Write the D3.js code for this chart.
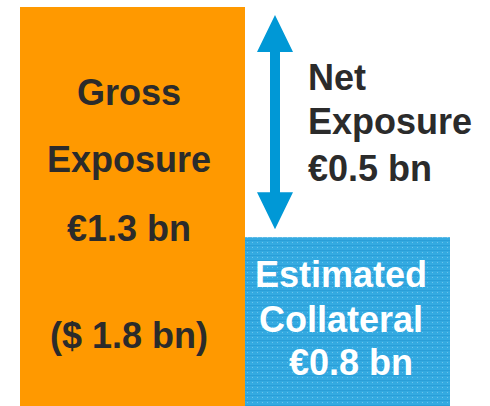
<!DOCTYPE html>
<html>
<head>
<meta charset="utf-8">
<script src="https://cdn.jsdelivr.net/npm/d3@7.9.0/dist/d3.min.js"></script>
<style>
  html, body { margin: 0; padding: 0; background: #fff; }
  svg { display: block; font-family: "Liberation Sans", Arial, sans-serif; font-weight: bold; }
</style>
</head>
<body>
<div id="chart"></div>
<script>
// exposure bars (EUR bn)
const categories = ["Gross", "Collateral"];
const amounts = [1.3, 0.8];
// bar height as drawn in the original (collateral bar is not to scale)
const drawnValues = [1.3, 0.55];
const netAmount = 0.5;

const grossLines = ["Gross", "Exposure", "€1.3 bn", "($ 1.8 bn)"];
const collateralLines = ["Estimated", "Collateral", "€0.8 bn"];
const netLines = ["Net", "Exposure", "€0.5 bn"];

const width = 490, height = 406;

const svg = d3.select("#chart")
  .append("svg")
    .attr("width", width)
    .attr("height", height);

// dotted blue fill for the collateral bar
const defs = svg.append("defs");
const pat = defs.append("pattern")
    .attr("id", "dots")
    .attr("width", 5)
    .attr("height", 5)
    .attr("patternUnits", "userSpaceOnUse");
pat.append("rect").attr("width", 5).attr("height", 5).attr("fill", "#34aae1");
pat.append("rect").attr("width", 5).attr("height", 1).attr("fill", "#2a9ed8");
pat.append("rect").attr("x", 2).attr("y", 2).attr("width", 1).attr("height", 1).attr("fill", "#6cc4ec");

const y = d3.scaleLinear()
    .domain([0, 1.3])
    .range([height, 7]);

// left / right edges of each bar
const xEdges = d3.scaleOrdinal()
    .domain(categories)
    .range([[20, 245], [245, 450]]);

const fills = ["#ff9900", "url(#dots)"];

svg.selectAll("rect.bar")
  .data(categories)
  .join("rect")
    .attr("class", "bar")
    .attr("x", d => xEdges(d)[0])
    .attr("width", d => xEdges(d)[1] - xEdges(d)[0])
    .attr("y", (d, i) => y(drawnValues[i]))
    .attr("height", (d, i) => height - y(drawnValues[i]))
    .attr("fill", (d, i) => fills[i]);

// double arrow for net exposure
const ax = 275;
const yTop = y(drawnValues[0]) + 8;
const yBot = y(drawnValues[1]) - 8;
const headW = 18, headH = 37, shaft = 5;
svg.append("path")
    .attr("d", `M${ax},${yTop} L${ax + headW},${yTop + headH} L${ax + shaft},${yTop + headH}
      L${ax + shaft},${yBot - headH} L${ax + headW},${yBot - headH} L${ax},${yBot}
      L${ax - headW},${yBot - headH} L${ax - shaft},${yBot - headH} L${ax - shaft},${yTop + headH}
      L${ax - headW},${yTop + headH} Z`)
    .attr("fill", "#0098d6");

// labels
const fontSize = 36;

svg.append("g")
  .selectAll("text")
  .data(grossLines)
  .join("text")
    .attr("x", 129)
    .attr("y", (d, i) => [105, 172, 241, 348][i])
    .attr("text-anchor", "middle")
    .style("font-size", fontSize + "px")
    .attr("fill", "#2b2b2b")
    .text(d => d);

svg.append("g")
  .selectAll("text")
  .data(collateralLines)
  .join("text")
    .attr("x", (d, i) => [341, 341, 351][i])
    .attr("y", (d, i) => [287, 332, 375][i])
    .attr("text-anchor", "middle")
    .style("font-size", fontSize + "px")
    .attr("fill", "#ffffff")
    .text(d => d);

svg.append("g")
  .selectAll("text")
  .data(netLines)
  .join("text")
    .attr("x", 308)
    .attr("y", (d, i) => [90, 134, 181][i])
    .style("font-size", fontSize + "px")
    .attr("fill", "#2b2b2b")
    .text(d => d);
</script>
</body>
</html>
